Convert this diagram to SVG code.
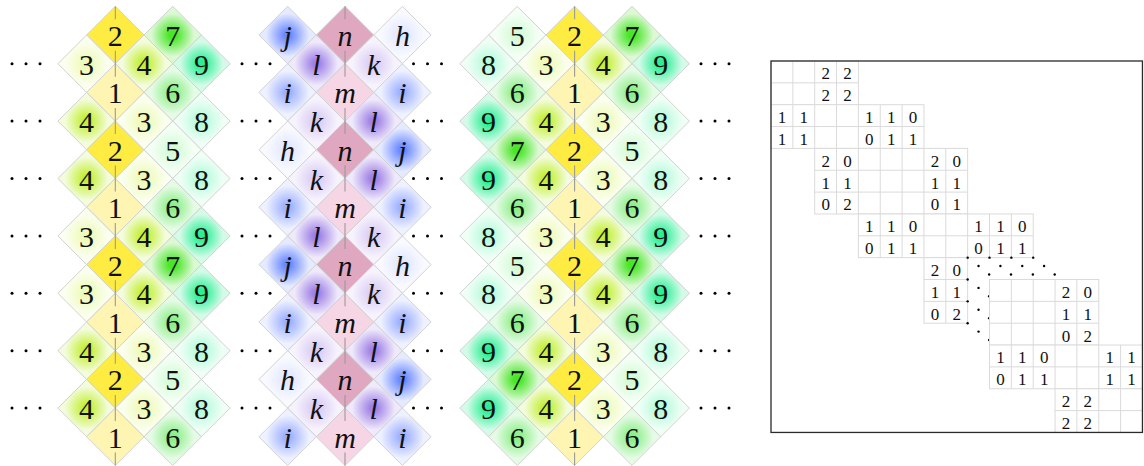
<svg xmlns="http://www.w3.org/2000/svg" xmlns:xlink="http://www.w3.org/1999/xlink" width="1144" height="466" viewBox="0 0 1144 466">
<style>
.tl use{stroke:#d2d2d2;stroke-width:1}
.tl text{font-family:"Liberation Serif","DejaVu Serif",serif;font-size:30px;text-anchor:middle;fill:#111}
.it text{font-style:italic}
.f1{fill:#fff5b3}.f2{fill:#ffec42}
.f3{fill:url(#g3)}.f4{fill:url(#g4)}.f5{fill:url(#g5)}.f6{fill:url(#g6)}.f7{fill:url(#g7)}.f8{fill:url(#g8)}.f9{fill:url(#g9)}
.fn{fill:#e0a7c0}.fm{fill:#f6d6e4}
.fh{fill:url(#gh)}.fi{fill:url(#gi)}.fj{fill:url(#gj)}.fk{fill:url(#gk)}.fl{fill:url(#gl)}
.guide{stroke:#9a9a9a;stroke-width:1.1;stroke-dasharray:26 31.4;stroke-dashoffset:13;fill:none}
.blk{fill:#fff;stroke:#dadada;stroke-width:1}
.gl{stroke:#dadada;stroke-width:1;fill:none}
.mt text{font-family:"Liberation Serif","DejaVu Serif",serif;font-size:17px;text-anchor:middle;fill:#111}
</style>
<defs>
<path id="dm" d="M0,-28.7L28.7,0L0,28.7L-28.7,0Z"/>
<g id="cd"><circle cx="0" cy="0" r="1.5"/><circle cx="14" cy="0" r="1.5"/><circle cx="28" cy="0" r="1.5"/></g>
<g id="dd"><circle cx="0" cy="0" r="1.2"/><circle cx="10.9" cy="8.4" r="1.2"/><circle cx="21.5" cy="16.8" r="1.2"/></g>
<radialGradient id="g3"><stop offset="0" stop-color="#eefab8"/><stop offset="0.12" stop-color="#eefab8"/><stop offset="0.75" stop-color="#fbfff0"/></radialGradient>
<radialGradient id="g4"><stop offset="0" stop-color="#c4ef36"/><stop offset="0.12" stop-color="#c4ef36"/><stop offset="0.75" stop-color="#f3fcdc"/></radialGradient>
<radialGradient id="g5"><stop offset="0" stop-color="#d4fbd6"/><stop offset="0.12" stop-color="#d4fbd6"/><stop offset="0.75" stop-color="#f5fff6"/></radialGradient>
<radialGradient id="g6"><stop offset="0" stop-color="#8cef88"/><stop offset="0.12" stop-color="#8cef88"/><stop offset="0.75" stop-color="#e6fbe6"/></radialGradient>
<radialGradient id="g7"><stop offset="0" stop-color="#48e626"/><stop offset="0.12" stop-color="#48e626"/><stop offset="0.75" stop-color="#dcf9d4"/></radialGradient>
<radialGradient id="g8"><stop offset="0" stop-color="#b6fadb"/><stop offset="0.12" stop-color="#b6fadb"/><stop offset="0.75" stop-color="#effff6"/></radialGradient>
<radialGradient id="g9"><stop offset="0" stop-color="#2aef94"/><stop offset="0.12" stop-color="#2aef94"/><stop offset="0.75" stop-color="#d3fbe8"/></radialGradient>
<radialGradient id="gh"><stop offset="0" stop-color="#e2e7ff"/><stop offset="0.12" stop-color="#e2e7ff"/><stop offset="0.75" stop-color="#f9faff"/></radialGradient>
<radialGradient id="gi"><stop offset="0" stop-color="#a0b2ff"/><stop offset="0.12" stop-color="#a0b2ff"/><stop offset="0.75" stop-color="#eef1ff"/></radialGradient>
<radialGradient id="gj"><stop offset="0" stop-color="#6c8aff"/><stop offset="0.12" stop-color="#6c8aff"/><stop offset="0.75" stop-color="#e5eaff"/></radialGradient>
<radialGradient id="gk"><stop offset="0" stop-color="#dacdf4"/><stop offset="0.12" stop-color="#dacdf4"/><stop offset="0.75" stop-color="#f7f3fd"/></radialGradient>
<radialGradient id="gl"><stop offset="0" stop-color="#a082e6"/><stop offset="0.12" stop-color="#a082e6"/><stop offset="0.75" stop-color="#efe9fb"/></radialGradient>
</defs>
<rect width="1144" height="466" fill="#fff"/>

<g id="tilingA" class="tl">
<g id="a0-1" transform="translate(115.3 35)"><use href="#dm" class="f2"/><text y="11">2</text></g>
<g id="a0-2" transform="translate(172.7 35)"><use href="#dm" class="f7"/><text y="11">7</text></g>
<g id="a1-1" transform="translate(86.6 63.7)"><use href="#dm" class="f3"/><text y="11">3</text></g>
<g id="a1-2" transform="translate(144 63.7)"><use href="#dm" class="f4"/><text y="11">4</text></g>
<g id="a1-3" transform="translate(201.4 63.7)"><use href="#dm" class="f9"/><text y="11">9</text></g>
<g id="a2-1" transform="translate(115.3 92.4)"><use href="#dm" class="f1"/><text y="11">1</text></g>
<g id="a2-2" transform="translate(172.7 92.4)"><use href="#dm" class="f6"/><text y="11">6</text></g>
<g id="a3-1" transform="translate(86.6 121.1)"><use href="#dm" class="f4"/><text y="11">4</text></g>
<g id="a3-2" transform="translate(144 121.1)"><use href="#dm" class="f3"/><text y="11">3</text></g>
<g id="a3-3" transform="translate(201.4 121.1)"><use href="#dm" class="f8"/><text y="11">8</text></g>
<g id="a4-1" transform="translate(115.3 149.8)"><use href="#dm" class="f2"/><text y="11">2</text></g>
<g id="a4-2" transform="translate(172.7 149.8)"><use href="#dm" class="f5"/><text y="11">5</text></g>
<g id="a5-1" transform="translate(86.6 178.5)"><use href="#dm" class="f4"/><text y="11">4</text></g>
<g id="a5-2" transform="translate(144 178.5)"><use href="#dm" class="f3"/><text y="11">3</text></g>
<g id="a5-3" transform="translate(201.4 178.5)"><use href="#dm" class="f8"/><text y="11">8</text></g>
<g id="a6-1" transform="translate(115.3 207.2)"><use href="#dm" class="f1"/><text y="11">1</text></g>
<g id="a6-2" transform="translate(172.7 207.2)"><use href="#dm" class="f6"/><text y="11">6</text></g>
<g id="a7-1" transform="translate(86.6 235.9)"><use href="#dm" class="f3"/><text y="11">3</text></g>
<g id="a7-2" transform="translate(144 235.9)"><use href="#dm" class="f4"/><text y="11">4</text></g>
<g id="a7-3" transform="translate(201.4 235.9)"><use href="#dm" class="f9"/><text y="11">9</text></g>
<g id="a8-1" transform="translate(115.3 264.6)"><use href="#dm" class="f2"/><text y="11">2</text></g>
<g id="a8-2" transform="translate(172.7 264.6)"><use href="#dm" class="f7"/><text y="11">7</text></g>
<g id="a9-1" transform="translate(86.6 293.3)"><use href="#dm" class="f3"/><text y="11">3</text></g>
<g id="a9-2" transform="translate(144 293.3)"><use href="#dm" class="f4"/><text y="11">4</text></g>
<g id="a9-3" transform="translate(201.4 293.3)"><use href="#dm" class="f9"/><text y="11">9</text></g>
<g id="a10-1" transform="translate(115.3 322)"><use href="#dm" class="f1"/><text y="11">1</text></g>
<g id="a10-2" transform="translate(172.7 322)"><use href="#dm" class="f6"/><text y="11">6</text></g>
<g id="a11-1" transform="translate(86.6 350.7)"><use href="#dm" class="f4"/><text y="11">4</text></g>
<g id="a11-2" transform="translate(144 350.7)"><use href="#dm" class="f3"/><text y="11">3</text></g>
<g id="a11-3" transform="translate(201.4 350.7)"><use href="#dm" class="f8"/><text y="11">8</text></g>
<g id="a12-1" transform="translate(115.3 379.4)"><use href="#dm" class="f2"/><text y="11">2</text></g>
<g id="a12-2" transform="translate(172.7 379.4)"><use href="#dm" class="f5"/><text y="11">5</text></g>
<g id="a13-1" transform="translate(86.6 408.1)"><use href="#dm" class="f4"/><text y="11">4</text></g>
<g id="a13-2" transform="translate(144 408.1)"><use href="#dm" class="f3"/><text y="11">3</text></g>
<g id="a13-3" transform="translate(201.4 408.1)"><use href="#dm" class="f8"/><text y="11">8</text></g>
<g id="a14-1" transform="translate(115.3 436.8)"><use href="#dm" class="f1"/><text y="11">1</text></g>
<g id="a14-2" transform="translate(172.7 436.8)"><use href="#dm" class="f6"/><text y="11">6</text></g>
</g>

<g id="tilingB" class="tl it">
<g id="b0-1" transform="translate(287.6 35)"><use href="#dm" class="fj"/><text y="11">j</text></g>
<g id="b0-2" transform="translate(345 35)"><use href="#dm" class="fn"/><text y="11">n</text></g>
<g id="b0-3" transform="translate(402.4 35)"><use href="#dm" class="fh"/><text y="11">h</text></g>
<g id="b1-1" transform="translate(316.3 63.7)"><use href="#dm" class="fl"/><text y="11">l</text></g>
<g id="b1-2" transform="translate(373.7 63.7)"><use href="#dm" class="fk"/><text y="11">k</text></g>
<g id="b2-1" transform="translate(287.6 92.4)"><use href="#dm" class="fi"/><text y="11">i</text></g>
<g id="b2-2" transform="translate(345 92.4)"><use href="#dm" class="fm"/><text y="11">m</text></g>
<g id="b2-3" transform="translate(402.4 92.4)"><use href="#dm" class="fi"/><text y="11">i</text></g>
<g id="b3-1" transform="translate(316.3 121.1)"><use href="#dm" class="fk"/><text y="11">k</text></g>
<g id="b3-2" transform="translate(373.7 121.1)"><use href="#dm" class="fl"/><text y="11">l</text></g>
<g id="b4-1" transform="translate(287.6 149.8)"><use href="#dm" class="fh"/><text y="11">h</text></g>
<g id="b4-2" transform="translate(345 149.8)"><use href="#dm" class="fn"/><text y="11">n</text></g>
<g id="b4-3" transform="translate(402.4 149.8)"><use href="#dm" class="fj"/><text y="11">j</text></g>
<g id="b5-1" transform="translate(316.3 178.5)"><use href="#dm" class="fk"/><text y="11">k</text></g>
<g id="b5-2" transform="translate(373.7 178.5)"><use href="#dm" class="fl"/><text y="11">l</text></g>
<g id="b6-1" transform="translate(287.6 207.2)"><use href="#dm" class="fi"/><text y="11">i</text></g>
<g id="b6-2" transform="translate(345 207.2)"><use href="#dm" class="fm"/><text y="11">m</text></g>
<g id="b6-3" transform="translate(402.4 207.2)"><use href="#dm" class="fi"/><text y="11">i</text></g>
<g id="b7-1" transform="translate(316.3 235.9)"><use href="#dm" class="fl"/><text y="11">l</text></g>
<g id="b7-2" transform="translate(373.7 235.9)"><use href="#dm" class="fk"/><text y="11">k</text></g>
<g id="b8-1" transform="translate(287.6 264.6)"><use href="#dm" class="fj"/><text y="11">j</text></g>
<g id="b8-2" transform="translate(345 264.6)"><use href="#dm" class="fn"/><text y="11">n</text></g>
<g id="b8-3" transform="translate(402.4 264.6)"><use href="#dm" class="fh"/><text y="11">h</text></g>
<g id="b9-1" transform="translate(316.3 293.3)"><use href="#dm" class="fl"/><text y="11">l</text></g>
<g id="b9-2" transform="translate(373.7 293.3)"><use href="#dm" class="fk"/><text y="11">k</text></g>
<g id="b10-1" transform="translate(287.6 322)"><use href="#dm" class="fi"/><text y="11">i</text></g>
<g id="b10-2" transform="translate(345 322)"><use href="#dm" class="fm"/><text y="11">m</text></g>
<g id="b10-3" transform="translate(402.4 322)"><use href="#dm" class="fi"/><text y="11">i</text></g>
<g id="b11-1" transform="translate(316.3 350.7)"><use href="#dm" class="fk"/><text y="11">k</text></g>
<g id="b11-2" transform="translate(373.7 350.7)"><use href="#dm" class="fl"/><text y="11">l</text></g>
<g id="b12-1" transform="translate(287.6 379.4)"><use href="#dm" class="fh"/><text y="11">h</text></g>
<g id="b12-2" transform="translate(345 379.4)"><use href="#dm" class="fn"/><text y="11">n</text></g>
<g id="b12-3" transform="translate(402.4 379.4)"><use href="#dm" class="fj"/><text y="11">j</text></g>
<g id="b13-1" transform="translate(316.3 408.1)"><use href="#dm" class="fk"/><text y="11">k</text></g>
<g id="b13-2" transform="translate(373.7 408.1)"><use href="#dm" class="fl"/><text y="11">l</text></g>
<g id="b14-1" transform="translate(287.6 436.8)"><use href="#dm" class="fi"/><text y="11">i</text></g>
<g id="b14-2" transform="translate(345 436.8)"><use href="#dm" class="fm"/><text y="11">m</text></g>
<g id="b14-3" transform="translate(402.4 436.8)"><use href="#dm" class="fi"/><text y="11">i</text></g>
</g>

<g id="tilingC" class="tl">
<g id="c0-1" transform="translate(517.2 35)"><use href="#dm" class="f5"/><text y="11">5</text></g>
<g id="c0-2" transform="translate(574.6 35)"><use href="#dm" class="f2"/><text y="11">2</text></g>
<g id="c0-3" transform="translate(632 35)"><use href="#dm" class="f7"/><text y="11">7</text></g>
<g id="c1-1" transform="translate(488.5 63.7)"><use href="#dm" class="f8"/><text y="11">8</text></g>
<g id="c1-2" transform="translate(545.9 63.7)"><use href="#dm" class="f3"/><text y="11">3</text></g>
<g id="c1-3" transform="translate(603.3 63.7)"><use href="#dm" class="f4"/><text y="11">4</text></g>
<g id="c1-4" transform="translate(660.7 63.7)"><use href="#dm" class="f9"/><text y="11">9</text></g>
<g id="c2-1" transform="translate(517.2 92.4)"><use href="#dm" class="f6"/><text y="11">6</text></g>
<g id="c2-2" transform="translate(574.6 92.4)"><use href="#dm" class="f1"/><text y="11">1</text></g>
<g id="c2-3" transform="translate(632 92.4)"><use href="#dm" class="f6"/><text y="11">6</text></g>
<g id="c3-1" transform="translate(488.5 121.1)"><use href="#dm" class="f9"/><text y="11">9</text></g>
<g id="c3-2" transform="translate(545.9 121.1)"><use href="#dm" class="f4"/><text y="11">4</text></g>
<g id="c3-3" transform="translate(603.3 121.1)"><use href="#dm" class="f3"/><text y="11">3</text></g>
<g id="c3-4" transform="translate(660.7 121.1)"><use href="#dm" class="f8"/><text y="11">8</text></g>
<g id="c4-1" transform="translate(517.2 149.8)"><use href="#dm" class="f7"/><text y="11">7</text></g>
<g id="c4-2" transform="translate(574.6 149.8)"><use href="#dm" class="f2"/><text y="11">2</text></g>
<g id="c4-3" transform="translate(632 149.8)"><use href="#dm" class="f5"/><text y="11">5</text></g>
<g id="c5-1" transform="translate(488.5 178.5)"><use href="#dm" class="f9"/><text y="11">9</text></g>
<g id="c5-2" transform="translate(545.9 178.5)"><use href="#dm" class="f4"/><text y="11">4</text></g>
<g id="c5-3" transform="translate(603.3 178.5)"><use href="#dm" class="f3"/><text y="11">3</text></g>
<g id="c5-4" transform="translate(660.7 178.5)"><use href="#dm" class="f8"/><text y="11">8</text></g>
<g id="c6-1" transform="translate(517.2 207.2)"><use href="#dm" class="f6"/><text y="11">6</text></g>
<g id="c6-2" transform="translate(574.6 207.2)"><use href="#dm" class="f1"/><text y="11">1</text></g>
<g id="c6-3" transform="translate(632 207.2)"><use href="#dm" class="f6"/><text y="11">6</text></g>
<g id="c7-1" transform="translate(488.5 235.9)"><use href="#dm" class="f8"/><text y="11">8</text></g>
<g id="c7-2" transform="translate(545.9 235.9)"><use href="#dm" class="f3"/><text y="11">3</text></g>
<g id="c7-3" transform="translate(603.3 235.9)"><use href="#dm" class="f4"/><text y="11">4</text></g>
<g id="c7-4" transform="translate(660.7 235.9)"><use href="#dm" class="f9"/><text y="11">9</text></g>
<g id="c8-1" transform="translate(517.2 264.6)"><use href="#dm" class="f5"/><text y="11">5</text></g>
<g id="c8-2" transform="translate(574.6 264.6)"><use href="#dm" class="f2"/><text y="11">2</text></g>
<g id="c8-3" transform="translate(632 264.6)"><use href="#dm" class="f7"/><text y="11">7</text></g>
<g id="c9-1" transform="translate(488.5 293.3)"><use href="#dm" class="f8"/><text y="11">8</text></g>
<g id="c9-2" transform="translate(545.9 293.3)"><use href="#dm" class="f3"/><text y="11">3</text></g>
<g id="c9-3" transform="translate(603.3 293.3)"><use href="#dm" class="f4"/><text y="11">4</text></g>
<g id="c9-4" transform="translate(660.7 293.3)"><use href="#dm" class="f9"/><text y="11">9</text></g>
<g id="c10-1" transform="translate(517.2 322)"><use href="#dm" class="f6"/><text y="11">6</text></g>
<g id="c10-2" transform="translate(574.6 322)"><use href="#dm" class="f1"/><text y="11">1</text></g>
<g id="c10-3" transform="translate(632 322)"><use href="#dm" class="f6"/><text y="11">6</text></g>
<g id="c11-1" transform="translate(488.5 350.7)"><use href="#dm" class="f9"/><text y="11">9</text></g>
<g id="c11-2" transform="translate(545.9 350.7)"><use href="#dm" class="f4"/><text y="11">4</text></g>
<g id="c11-3" transform="translate(603.3 350.7)"><use href="#dm" class="f3"/><text y="11">3</text></g>
<g id="c11-4" transform="translate(660.7 350.7)"><use href="#dm" class="f8"/><text y="11">8</text></g>
<g id="c12-1" transform="translate(517.2 379.4)"><use href="#dm" class="f7"/><text y="11">7</text></g>
<g id="c12-2" transform="translate(574.6 379.4)"><use href="#dm" class="f2"/><text y="11">2</text></g>
<g id="c12-3" transform="translate(632 379.4)"><use href="#dm" class="f5"/><text y="11">5</text></g>
<g id="c13-1" transform="translate(488.5 408.1)"><use href="#dm" class="f9"/><text y="11">9</text></g>
<g id="c13-2" transform="translate(545.9 408.1)"><use href="#dm" class="f4"/><text y="11">4</text></g>
<g id="c13-3" transform="translate(603.3 408.1)"><use href="#dm" class="f3"/><text y="11">3</text></g>
<g id="c13-4" transform="translate(660.7 408.1)"><use href="#dm" class="f8"/><text y="11">8</text></g>
<g id="c14-1" transform="translate(517.2 436.8)"><use href="#dm" class="f6"/><text y="11">6</text></g>
<g id="c14-2" transform="translate(574.6 436.8)"><use href="#dm" class="f1"/><text y="11">1</text></g>
<g id="c14-3" transform="translate(632 436.8)"><use href="#dm" class="f6"/><text y="11">6</text></g>
</g>

<g id="connectors">
<line class="guide" x1="115.3" y1="6.3" x2="115.3" y2="465.5"/>
<line class="guide" x1="345" y1="6.3" x2="345" y2="465.5"/>
<line class="guide" x1="574.6" y1="6.3" x2="574.6" y2="465.5"/>
</g>

<g id="cdots" fill="#000">
<use href="#cd" x="12" y="63.7"/><use href="#cd" x="12" y="121.1"/><use href="#cd" x="12" y="178.5"/><use href="#cd" x="12" y="235.9"/><use href="#cd" x="12" y="293.3"/><use href="#cd" x="12" y="350.7"/><use href="#cd" x="12" y="408.1"/>
<use href="#cd" x="242" y="63.7"/><use href="#cd" x="242" y="121.1"/><use href="#cd" x="242" y="178.5"/><use href="#cd" x="242" y="235.9"/><use href="#cd" x="242" y="293.3"/><use href="#cd" x="242" y="350.7"/><use href="#cd" x="242" y="408.1"/>
<use href="#cd" x="413.5" y="63.7"/><use href="#cd" x="413.5" y="121.1"/><use href="#cd" x="413.5" y="178.5"/><use href="#cd" x="413.5" y="235.9"/><use href="#cd" x="413.5" y="293.3"/><use href="#cd" x="413.5" y="350.7"/><use href="#cd" x="413.5" y="408.1"/>
<use href="#cd" x="701" y="63.7"/><use href="#cd" x="701" y="121.1"/><use href="#cd" x="701" y="178.5"/><use href="#cd" x="701" y="235.9"/><use href="#cd" x="701" y="293.3"/><use href="#cd" x="701" y="350.7"/><use href="#cd" x="701" y="408.1"/>
</g>

<g id="matrix">
<g id="blkA" class="mt"><rect class="blk" x="771" y="61" width="87.4" height="43.7"/><path class="gl" d="M792.85 61V104.7M814.7 61V104.7M836.55 61V104.7M771 82.85H858.4"/>
<text x="825.63" y="79.3">2</text><text x="847.48" y="79.3">2</text><text x="825.63" y="101.15">2</text><text x="847.48" y="101.15">2</text></g>
<g id="blkB" class="mt"><rect class="blk" x="771" y="104.7" width="152.95" height="43.7"/><path class="gl" d="M792.85 104.7V148.4M814.7 104.7V148.4M836.55 104.7V148.4M858.4 104.7V148.4M880.25 104.7V148.4M902.1 104.7V148.4M771 126.55H923.95"/>
<text x="781.93" y="123">1</text><text x="803.78" y="123">1</text><text x="869.33" y="123">1</text><text x="891.18" y="123">1</text><text x="913.03" y="123">0</text>
<text x="781.93" y="144.85">1</text><text x="803.78" y="144.85">1</text><text x="869.33" y="144.85">0</text><text x="891.18" y="144.85">1</text><text x="913.03" y="144.85">1</text></g>
<g id="blkC" class="mt"><rect class="blk" x="814.7" y="148.4" width="152.95" height="65.55"/><path class="gl" d="M836.55 148.4V213.95M858.4 148.4V213.95M880.25 148.4V213.95M902.1 148.4V213.95M923.95 148.4V213.95M945.8 148.4V213.95M814.7 170.25H967.65M814.7 192.1H967.65"/>
<text x="825.63" y="166.7">2</text><text x="847.48" y="166.7">0</text><text x="934.88" y="166.7">2</text><text x="956.73" y="166.7">0</text>
<text x="825.63" y="188.55">1</text><text x="847.48" y="188.55">1</text><text x="934.88" y="188.55">1</text><text x="956.73" y="188.55">1</text>
<text x="825.63" y="210.4">0</text><text x="847.48" y="210.4">2</text><text x="934.88" y="210.4">0</text><text x="956.73" y="210.4">1</text></g>
<g id="blkD" class="mt"><rect class="blk" x="858.4" y="213.95" width="174.8" height="43.7"/><path class="gl" d="M880.25 213.95V257.65M902.1 213.95V257.65M923.95 213.95V257.65M945.8 213.95V257.65M967.65 213.95V257.65M989.5 213.95V257.65M1011.35 213.95V257.65M858.4 235.8H1033.2"/>
<text x="869.33" y="232.25">1</text><text x="891.18" y="232.25">1</text><text x="913.03" y="232.25">0</text><text x="978.58" y="232.25">1</text><text x="1000.43" y="232.25">1</text><text x="1022.28" y="232.25">0</text>
<text x="869.33" y="254.1">0</text><text x="891.18" y="254.1">1</text><text x="913.03" y="254.1">1</text><text x="978.58" y="254.1">0</text><text x="1000.43" y="254.1">1</text><text x="1022.28" y="254.1">1</text></g>
<g id="blkE" class="mt"><rect class="blk" x="923.95" y="257.65" width="43.7" height="65.55"/><path class="gl" d="M945.8 257.65V323.2M923.95 279.5H967.65M923.95 301.35H967.65"/>
<text x="934.88" y="275.95">2</text><text x="956.73" y="275.95">0</text><text x="934.88" y="297.8">1</text><text x="956.73" y="297.8">1</text><text x="934.88" y="319.65">0</text><text x="956.73" y="319.65">2</text></g>
<g id="ddots" fill="#000">
<use href="#dd" x="967.65" y="257.65"/><use href="#dd" x="989.5" y="257.65"/><use href="#dd" x="1011.35" y="257.65"/><use href="#dd" x="1033.2" y="257.65"/>
<use href="#dd" x="967.65" y="279.5"/><use href="#dd" x="967.65" y="301.35"/><use href="#dd" x="967.65" y="323.2"/>
</g>
<g id="blkF" class="mt"><rect class="blk" x="989.5" y="279.5" width="109.25" height="65.55"/><path class="gl" d="M1011.35 279.5V345.05M1033.2 279.5V345.05M1055.05 279.5V345.05M1076.9 279.5V345.05M989.5 301.35H1098.75M989.5 323.2H1098.75"/>
<text x="1065.98" y="297.8">2</text><text x="1087.83" y="297.8">0</text><text x="1065.98" y="319.65">1</text><text x="1087.83" y="319.65">1</text><text x="1065.98" y="341.5">0</text><text x="1087.83" y="341.5">2</text></g>
<g id="blkG" class="mt"><rect class="blk" x="989.5" y="345.05" width="152.95" height="43.7"/><path class="gl" d="M1011.35 345.05V388.75M1033.2 345.05V388.75M1055.05 345.05V388.75M1076.9 345.05V388.75M1098.75 345.05V388.75M1120.6 345.05V388.75M989.5 366.9H1142.45"/>
<text x="1000.43" y="363.35">1</text><text x="1022.28" y="363.35">1</text><text x="1044.13" y="363.35">0</text><text x="1109.68" y="363.35">1</text><text x="1131.53" y="363.35">1</text>
<text x="1000.43" y="385.2">0</text><text x="1022.28" y="385.2">1</text><text x="1044.13" y="385.2">1</text><text x="1109.68" y="385.2">1</text><text x="1131.53" y="385.2">1</text></g>
<g id="blkH" class="mt"><rect class="blk" x="1055.05" y="388.75" width="87.4" height="43.7"/><path class="gl" d="M1076.9 388.75V432.45M1098.75 388.75V432.45M1120.6 388.75V432.45M1055.05 410.6H1142.45"/>
<text x="1065.98" y="407.05">2</text><text x="1087.83" y="407.05">2</text><text x="1065.98" y="428.9">2</text><text x="1087.83" y="428.9">2</text></g>
<rect id="frame" x="771" y="61" width="371.45" height="371.45" fill="none" stroke="#2a2a2a" stroke-width="1.3"/>
</g>
</svg>
